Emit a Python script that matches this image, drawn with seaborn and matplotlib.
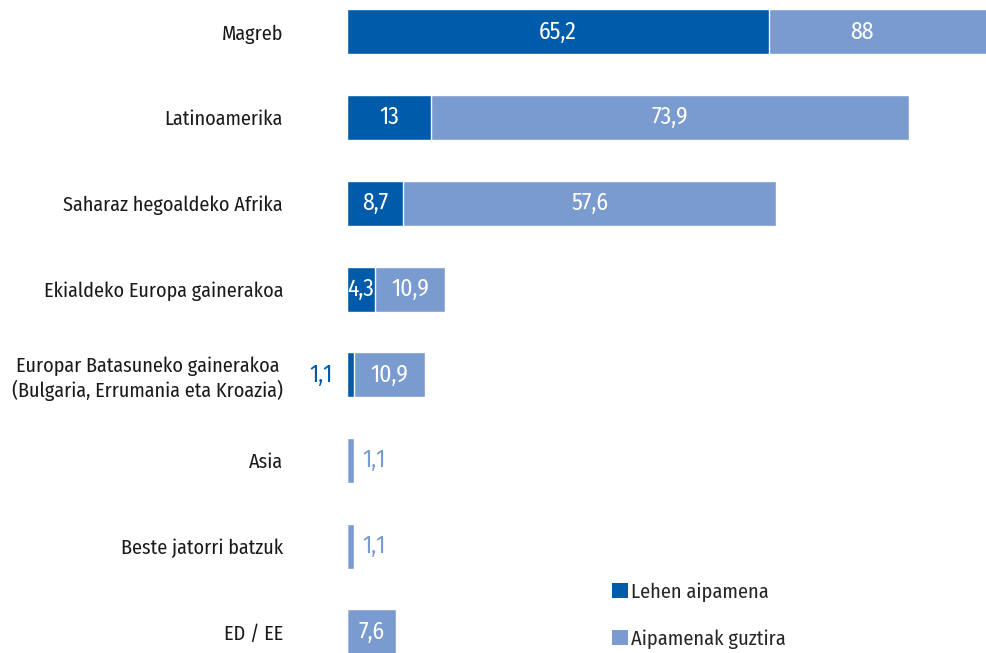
import matplotlib
matplotlib.use("Agg")
import matplotlib.pyplot as plt
from matplotlib import font_manager
from matplotlib.patches import Patch
import seaborn as sns
import pandas as pd

categories = ["Magreb", "Latinoamerika", "Saharaz hegoaldeko Afrika",
              "Ekialdeko Europa gainerakoa",
              "Europar Batasuneko gainerakoa\n(Bulgaria, Errumania eta Kroazia)",
              "Asia", "Beste jatorri batzuk", "ED / EE"]
lehen = [65.2, 13.0, 8.7, 4.3, 1.1, 0.0, 0.0, 0.0]
guztira = [88.0, 73.9, 57.6, 10.9, 10.9, 1.1, 1.1, 7.6]
series_names = ["Lehen aipamena", "Aipamenak guztira"]

DARK = "#005BAA"
LIGHT = "#7A9BD0"

sns.set_theme(style="white")
names = {f.name for f in font_manager.fontManager.ttflist}
fam = "DejaVu Sans"
for cand in ["Fira Sans Condensed", "PT Sans Narrow", "Roboto Condensed",
             "Open Sans Condensed", "Asap Condensed", "Liberation Sans Narrow"]:
    if cand in names:
        fam = cand
        break
plt.rcParams["font.family"] = [fam, "DejaVu Sans"]

df = pd.DataFrame({"cat": categories, "lehen": lehen, "guztira": guztira})
df["total"] = df["lehen"] + df["guztira"]

fig = plt.figure(figsize=(9.87, 6.53), dpi=100)
ax = fig.add_axes([347 / 987, 0, 1 - 347 / 987, 1])

sns.barplot(data=df, y="cat", x="total", orient="h", color=LIGHT,
            width=0.525, ax=ax, saturation=1)
sns.barplot(data=df, y="cat", x="lehen", orient="h", color=DARK,
            width=0.525, ax=ax, saturation=1)

xmax = 640 / 6.47
ax.set_xlim(0, xmax)
ax.set_ylim(7.245, -0.373)
ax.set_xlabel("")
ax.set_ylabel("")
ax.set_xticks([])
for s in ax.spines.values():
    s.set_visible(False)
ax.tick_params(axis="y", length=0, pad=46, labelsize=14.5, colors="#1a1a1a")
for lbl in ax.get_yticklabels():
    lbl.set_multialignment("center")

fs = 17
for i, (d, g) in enumerate(zip(lehen, guztira)):
    if d > 0:
        if d >= 3:
            ax.text(d / 2, i, f"{d:g}".replace(".", ","), color="white",
                    ha="center", va="center", fontsize=fs)
        else:
            ax.text(-2.2, i, f"{d:g}".replace(".", ","), color=DARK,
                    ha="right", va="center", fontsize=fs)
    end = min(d + g, xmax)
    if g >= 3:
        ax.text((d + end) / 2 - 2.5 * (d + g > xmax), i,
                f"{g:g}".replace(".", ","), color="white",
                ha="center", va="center", fontsize=fs)
    else:
        ax.text(d + g + 1.2, i, f"{g:g}".replace(".", ","), color=LIGHT,
                ha="left", va="center", fontsize=fs)

handles = [Patch(facecolor=DARK, edgecolor="none"),
           Patch(facecolor=LIGHT, edgecolor="none")]
fig.legend(handles, series_names, loc="upper left",
           bbox_to_anchor=(594 / 987, 1 - 564 / 653), frameon=False,
           fontsize=14.7, handlelength=0.75, handleheight=0.75,
           handletextpad=0.15, labelspacing=1.35)

fig.savefig("out.png", dpi=100)
